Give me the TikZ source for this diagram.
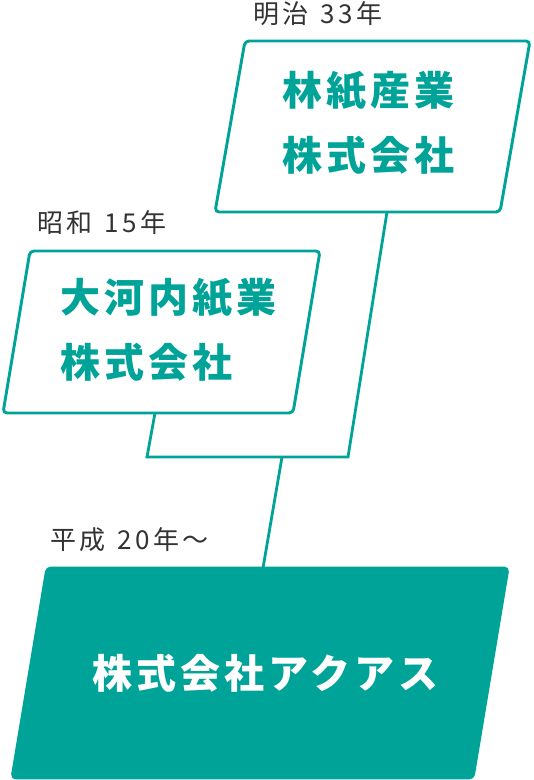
\documentclass[tikz,border=0pt]{standalone}
\usepackage{fontspec}
\setmainfont{Noto Sans CJK JP}
\newfontfamily\jplabel[LetterSpace=13]{Noto Sans CJK JP}
\newfontfamily\jpname[LetterSpace=10]{Noto Sans CJK JP}
\definecolor{aquasgreen}{HTML}{00A398}
\definecolor{labelgray}{HTML}{333333}
\tikzset{
  era frame/.style={
    rounded corners=3pt,
    draw=aquasgreen,
    line width=2.2pt,
  },
  era name/.style={
    inner sep=0pt,
    align=left,
    text=aquasgreen,
    font=\jpname\bfseries\fontsize{30pt}{48.75pt}\selectfont,
  },
  era label/.style={
    anchor=west,
    inner sep=0pt,
    text=labelgray,
    font=\jplabel\fontsize{19.5pt}{24pt}\selectfont,
  },
  link/.style={draw=aquasgreen, line width=2.1pt},
}

\begin{document}
\begin{tikzpicture}[x=0.75pt, y=-0.75pt]
      \useasboundingbox (0,0) rectangle (533,780);

      % frames
      \draw[era frame] (245,41) -- (530,41) -- (500,212) -- (215,212) -- cycle;
      \draw[era frame] (30,251) -- (320,251) -- (293,413) -- (3,413) -- cycle;
      \draw[era frame, fill=aquasgreen] (47,568) -- (508,568) -- (473,778) -- (12,778) -- cycle;

      \coordinate (meiji out)  at (387,212);
      \coordinate (showa out)  at (155,413);
      \coordinate (aquas in)   at (263,568);
      \coordinate (merge)      at (348,457);
      \coordinate (corner)     at (147,457);
      \coordinate (split)      at (282,457);

      \node[era name] (meiji) at (368.5,122.5) {林紙産業\\株式会社};
      \node[era name, anchor=west] (showa) at (60,330) {大河内紙業\\株式会社};
      \node[era name, text=white] (aquas) at (265,673) {株式会社アクアス};

      \node[era label] (meiji year)  at (253,14)  {明治\hspace{2pt} 33年};
      \node[era label] (showa year)  at (37,223)  {昭和\hspace{2pt} 15年};
      \node[era label] (heisei year) at (50,540)  {平成\hspace{2pt} 20年〜};

      \draw[link] (showa out) -- (corner) -- (merge) -- (meiji out);
      \draw[link] (split) -- (aquas in);
    \end{tikzpicture}
\end{document}
